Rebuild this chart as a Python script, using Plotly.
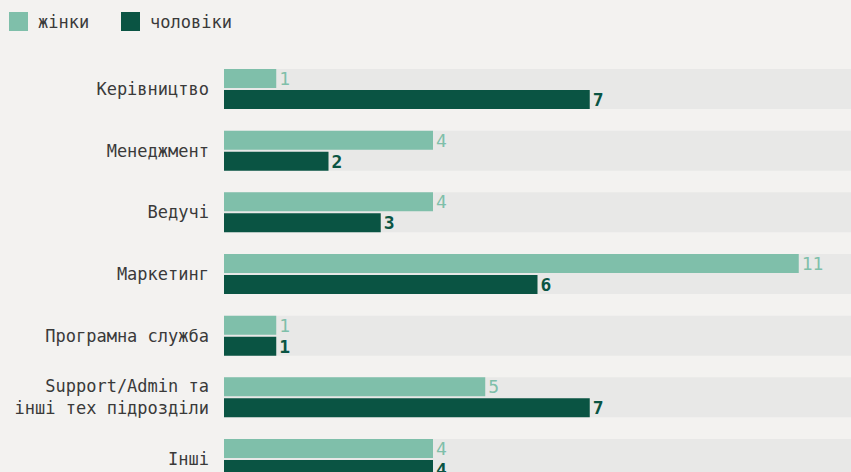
import plotly.graph_objects as go

categories = ["Керівництво", "Менеджмент", "Ведучі", "Маркетинг", "Програмна служба",
              "Support/Admin та<br>інші тех підрозділи", "Інші"]
women = [1, 4, 4, 11, 1, 5, 4]
men = [7, 2, 3, 6, 1, 7, 4]
max_val = 12
series_names = ["жінки", "чоловіки"]

BG = "#f3f2f0"
BAND = "#e8e8e7"
LIGHT = "#7fbfaa"
DARK = "#0a5443"
FONT = "DejaVu Sans Mono"
TXT = "#3a3a3a"

fig = go.Figure()
fig.add_trace(go.Bar(y=categories, x=[max_val] * len(categories), orientation="h",
                     marker=dict(color=BAND, line=dict(width=0)), width=0.648, offset=-0.324,
                     hoverinfo="skip", showlegend=False))
fig.add_trace(go.Bar(y=categories, x=women, orientation="h", name=series_names[0],
                     marker=dict(color=LIGHT, line=dict(width=0)), width=0.308, offset=-0.324,
                     text=women, textposition="outside", cliponaxis=False, constraintext="none",
                     textfont=dict(color=LIGHT, size=18, family=FONT), showlegend=False))
fig.add_trace(go.Bar(y=categories, x=men, orientation="h", name=series_names[1],
                     marker=dict(color=DARK, line=dict(width=0)), width=0.308, offset=0.016,
                     text=men, textposition="outside", cliponaxis=False, constraintext="none",
                     textfont=dict(color=DARK, size=18, family=FONT, weight="bold"),
                     showlegend=False))

top = 58
fig.update_layout(
    width=851, height=472, barmode="overlay",
    paper_bgcolor=BG, plot_bgcolor=BG,
    margin=dict(l=224, r=0, t=top, b=0),
    font=dict(family=FONT, size=17, color=TXT),
    xaxis=dict(range=[0, max_val], visible=False, fixedrange=True),
    yaxis=dict(type="category", range=[6 + 13 / 61.67, -(89 - top) / 61.67],
               showgrid=False, zeroline=False, showline=False, ticks="",
               ticklabelstandoff=14, tickfont=dict(size=17, color=TXT, family=FONT)),
    uniformtext=dict(mode=False),
)

# legend drawn as shapes + text
legend_items = [(9, LIGHT, series_names[0]), (121, DARK, series_names[1])]
for x0, col, name in legend_items:
    fig.add_shape(type="rect", xref="paper", yref="paper",
                  x0=(x0 - 224) / 627, x1=(x0 + 19 - 224) / 627,
                  y0=1 + (top - 12) / 414, y1=1 + (top - 31) / 414,
                  fillcolor=col, line=dict(width=0), layer="above")
    fig.add_annotation(xref="paper", yref="paper", x=(x0 + 27 - 224) / 627,
                       y=1 + (top - 21.5) / 414, text=name, showarrow=False,
                       xanchor="left", yanchor="middle",
                       font=dict(size=17, color=TXT, family=FONT))

fig.write_html("out.html")
